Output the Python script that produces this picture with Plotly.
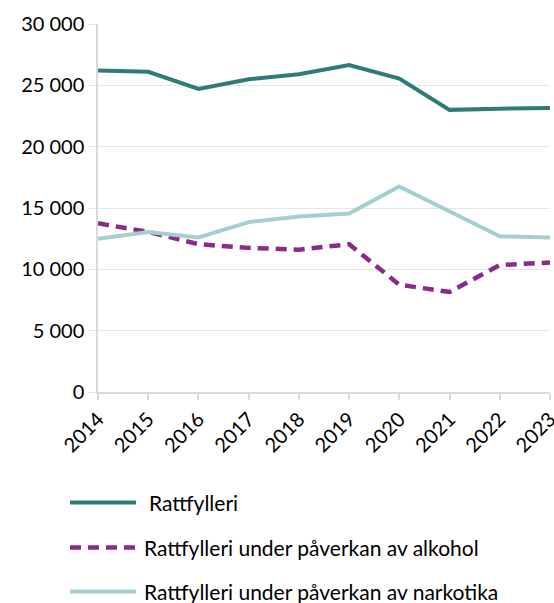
import plotly.graph_objects as go

years = [2014, 2015, 2016, 2017, 2018, 2019, 2020, 2021, 2022, 2023]
rattfylleri = [26200, 26100, 24700, 25500, 25900, 26650, 25550, 23000, 23100, 23150]
alkohol = [13750, 13050, 12050, 11750, 11600, 12050, 8750, 8150, 10350, 10550]
narkotika = [12500, 13050, 12600, 13850, 14300, 14550, 16750, 14750, 12700, 12600]

names = [
    "Rattfylleri",
    "Rattfylleri under påverkan av alkohol",
    "Rattfylleri under påverkan av narkotika",
]
COLORS = ["#2F7C77", "#8C2A8C", "#A3D0CF"]
DASHES = ["solid", "11px,7px", "solid"]
WIDTHS = [4, 4.5, 4]

FONT = "Lato"

fig = go.Figure()
for series, name, color, dash, w in zip(
    [rattfylleri, alkohol, narkotika], names, COLORS, DASHES, WIDTHS
):
    fig.add_trace(go.Scatter(
        x=years, y=series, name=name, mode="lines",
        line=dict(color=color, width=w, dash=dash),
        showlegend=False,
    ))

# legend drawn by hand, below the plot (paper coords)
L, R, T, B = 98, 4, 24, 211
pw, ph = 554 - L - R, 603 - T - B


def px_x(x):
    return (x - L) / pw


def px_y(y):
    return (603 - B - y) / ph


rows_y = [502.5, 547.5, 591.5]
text_x = [147, 142, 142]
for name, color, dash, w, ry, tx in zip(names, COLORS, DASHES, WIDTHS, rows_y, text_x):
    fig.add_shape(
        type="line", xref="paper", yref="paper",
        x0=px_x(70), x1=px_x(136), y0=px_y(ry), y1=px_y(ry),
        line=dict(color=color, width=w, dash=dash),
    )
    fig.add_annotation(
        xref="paper", yref="paper", x=px_x(tx), y=px_y(ry),
        text=name, showarrow=False, xanchor="left", yanchor="middle",
        font=dict(family=FONT, size=21, color="#000000"),
    )

fig.update_layout(
    width=554, height=603,
    margin=dict(l=L, r=R, t=T, b=B),
    plot_bgcolor="white", paper_bgcolor="white",
    separators=", ",
    font=dict(family=FONT, size=20, color="#000000"),
    xaxis=dict(
        range=[2013.999, 2023.001], tickvals=years, ticktext=[str(y) for y in years],
        tickangle=-45, showgrid=False, zeroline=False, automargin=False,
        ticklabeloverflow="allow",
        showline=True, linecolor="#D9D9D9", linewidth=1.5,
        ticks="outside", ticklen=6, tickcolor="#D9D9D9", tickwidth=1.5,
        tickfont=dict(size=20),
    ),
    yaxis=dict(
        range=[0, 30000], dtick=5000, tickformat=",d", automargin=False,
        showgrid=True, gridcolor="#E6E6E6", gridwidth=1, zeroline=False,
        showline=True, linecolor="#D9D9D9", linewidth=1.5,
        ticks="outside", ticklen=8, tickcolor="#E6E6E6",
        tickfont=dict(size=20),
    ),
)

# the page body has a default 8px margin; drop it so the figure fills the window
fig.write_html(
    "out.html",
    config={"displayModeBar": False},
    post_script="document.body.style.margin = '0';",
)
